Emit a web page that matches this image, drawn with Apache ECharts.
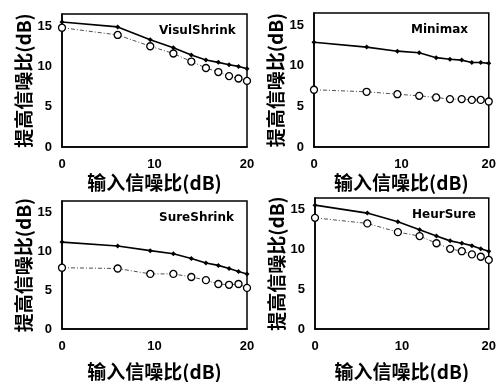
<!DOCTYPE html>
<html>
<head>
<meta charset="utf-8">
<script src="https://cdn.jsdelivr.net/npm/echarts@6/dist/echarts.min.js"></script>
<style>
  html, body { margin: 0; padding: 0; background: #fff; }
  #chart { width: 499px; height: 382px; }
</style>
</head>
<body>
<div id="chart"></div>
<script>
// input SNR (dB) for each noise level
var snrIn = [0, 6.02, 9.54, 12.04, 13.98, 15.56, 16.90, 18.06, 19.08, 20];

var panelNames = ['VisulShrink', 'Minimax', 'SureShrink', 'HeurSure'];

// solid line (improved method) and dash-dot circles (reference method)
var visuSolid = [15.5, 14.9, 13.3, 12.3, 11.4, 10.8, 10.5, 10.2, 10.0, 9.7];
var visuCircle = [14.8, 13.9, 12.5, 11.6, 10.6, 9.8, 9.3, 8.8, 8.5, 8.2];
var miniSolid = [12.9, 12.3, 11.8, 11.6, 11.0, 10.8, 10.7, 10.4, 10.4, 10.3];
var miniCircle = [7.05, 6.8, 6.5, 6.3, 6.1, 5.9, 5.9, 5.8, 5.8, 5.6];
var sureSolid = [11.2, 10.7, 10.1, 9.7, 9.1, 8.5, 8.2, 7.8, 7.4, 7.1];
var sureCircle = [7.9, 7.8, 7.1, 7.1, 6.7, 6.3, 5.8, 5.7, 5.8, 5.3];
var heurSolid = [15.6, 14.6, 13.5, 12.5, 11.7, 11.1, 10.8, 10.5, 10.1, 9.8];
var heurCircle = [14.0, 13.3, 12.2, 11.7, 10.8, 10.1, 9.8, 9.4, 9.1, 8.7];

var xTicks = [0, 10, 20];
var yTicks = [0, 5, 10, 15];

var solids = [visuSolid, miniSolid, sureSolid, heurSolid];
var circles = [visuCircle, miniCircle, sureCircle, heurCircle];

var boxes = [
  { left: 62, top: 14, width: 185, height: 133, xGap: 26 },
  { left: 314, top: 13, width: 184, height: 134, xGap: 26 },
  { left: 62, top: 201, width: 185, height: 134, xGap: 33 },
  { left: 315, top: 198, width: 184, height: 137, xGap: 33 }
];

function pairs(ys) {
  return ys.map(function (y, i) { return [snrIn[i], y]; });
}

var tickFont = { color: '#000', fontSize: 13, fontWeight: 'bold', fontFamily: 'Liberation Sans, Arial, sans-serif' };
var nameFont = { color: '#000', fontSize: 19, fontWeight: 'bold', fontFamily: 'Noto Sans CJK SC, sans-serif' };

var grids = [], xAxes = [], yAxes = [], series = [], titles = [];

boxes.forEach(function (b, i) {
  grids.push({
    left: b.left, top: b.top, width: b.width, height: b.height,
    show: true, borderColor: '#000', borderWidth: 1.5, backgroundColor: 'transparent'
  });
  xAxes.push({
    gridIndex: i, type: 'value', min: 0, max: 20, interval: 10,
    name: '输入信噪比(dB)', nameLocation: 'middle', nameGap: b.xGap, nameTextStyle: nameFont,
    axisLine: { show: true, lineStyle: { color: '#000', width: 1.5 } },
    axisTick: { show: false }, splitLine: { show: false },
    axisLabel: Object.assign({ margin: 11, formatter: function (v) { return xTicks.indexOf(v) >= 0 ? v : ''; } }, tickFont)
  });
  yAxes.push({
    gridIndex: i, type: 'value', min: 0, max: 16.5, interval: 5,
    name: '提高信噪比(dB)', nameLocation: 'middle', nameGap: 29, nameTextStyle: nameFont,
    axisLine: { show: true, lineStyle: { color: '#000', width: 1.5 } },
    axisTick: { show: false }, splitLine: { show: false },
    axisLabel: Object.assign({ margin: 10, showMaxLabel: false, formatter: function (v) { return yTicks.indexOf(v) >= 0 ? v : ''; } }, tickFont)
  });
  series.push({
    type: 'line', xAxisIndex: i, yAxisIndex: i, data: pairs(solids[i]),
    symbol: 'diamond', symbolSize: 5, showSymbol: true,
    lineStyle: { color: '#000', width: 1.6 }, itemStyle: { color: '#000' }, animation: false
  });
  series.push({
    type: 'line', xAxisIndex: i, yAxisIndex: i, data: pairs(circles[i]),
    symbol: 'circle', symbolSize: 7, showSymbol: true,
    lineStyle: { color: '#222', width: 0.8, type: [4, 2, 1, 2] },
    itemStyle: { color: '#fff', borderColor: '#000', borderWidth: 1.3 }, animation: false
  });
  titles.push({
    text: panelNames[i], left: b.left + 92, top: b.top + 6,
    textStyle: { fontSize: 12, fontWeight: 'bold', color: '#000', fontFamily: 'DejaVu Sans, sans-serif' }
  });
});

var chart = echarts.init(document.getElementById('chart'));
chart.setOption({
  animation: false,
  backgroundColor: '#fff',
  title: titles,
  grid: grids,
  xAxis: xAxes,
  yAxis: yAxes,
  series: series
});
</script>
</body>
</html>
